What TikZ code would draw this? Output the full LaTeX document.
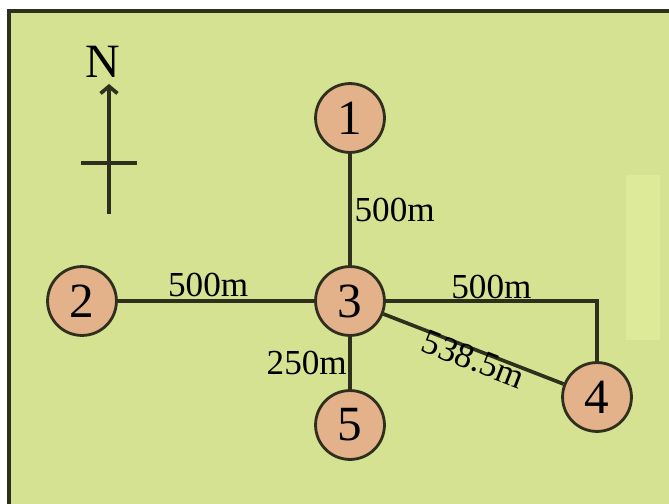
\documentclass[tikz,border=0pt]{standalone}
\usepackage{fontspec}
\setmainfont{Liberation Serif}
\usetikzlibrary{positioning, arrows.meta}

\definecolor{fieldgreen}{HTML}{D4E292}
\definecolor{paleband}{HTML}{DDEB99}
\definecolor{stnfill}{HTML}{E3B18A}
\definecolor{inkline}{HTML}{2F2F1E}

\tikzset{
    stn/.style={circle, draw=inkline, line width=2pt, fill=stnfill,
        minimum size=49pt, inner sep=0pt, font=\fontsize{35}{35}\selectfont},
    pipe/.style={draw=inkline, line width=2.6pt},
    dist/.style={font=\fontsize{25}{25}\selectfont, inner sep=2pt}
}

\begin{document}
\begin{tikzpicture}[x=0.025cm, y=-0.025cm]
    \useasboundingbox (0,0) rectangle (669,504);
    \fill[white] (0,0) rectangle (669,504);
    \filldraw[fill=fieldgreen, draw=inkline, line width=2.4pt] (9,11) rectangle (675,512);
    \fill[paleband] (626,175) rectangle (660,340);

    % compass
    \coordinate (s) at (109,214);
    \coordinate (t) at (109,84);
    \draw[pipe, -{Straight Barb[length=5pt, width=12pt]}] (s) -- (t);
    \draw[pipe] (81,163) -- (137,163);
    \node[font=\fontsize{34}{34}\selectfont, inner sep=0pt] (north) at (103,62) {N};

    % stations
    \node[stn] (n1) at (350,118) {1};
    \node[stn] (n2) at (82,301) {2};
    \node[stn] (n3) at (350,301) {3};
    \node[stn] (n4) at (597,397) {4};
    \node[stn] (n5) at (350,425) {5};
    \coordinate (bend) at (597,301);

    % pipes
    \draw[pipe] (n1) -- node[dist, right, pos=0.5] {500m} (n3);
    \draw[pipe] (n2) -- node[dist, above, pos=0.46] {500m} (n3);
    \draw[pipe] (n3) -- node[dist, above, pos=0.5, inner sep=0pt] {500m} (bend) -- (n4);
    \draw[pipe] (n3) -- node[dist, below, sloped, pos=0.52, inner sep=0pt, yshift=3pt] {538.5m} (n4);
    \draw[pipe] (n3) -- node[dist, left, pos=0.5, inner sep=1pt] {250m} (n5);
\end{tikzpicture}
\end{document}
